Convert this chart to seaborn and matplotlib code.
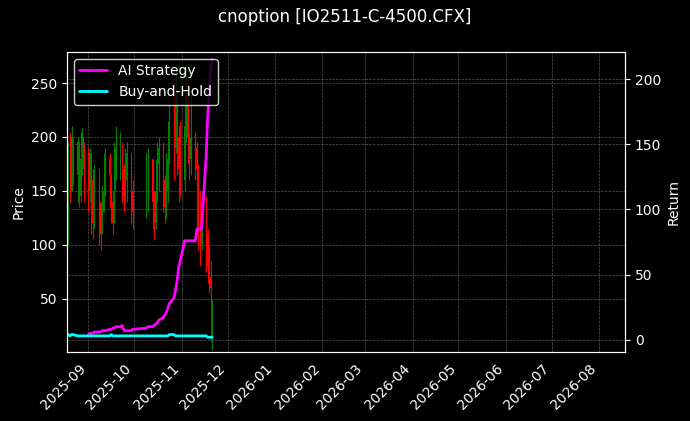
import matplotlib
matplotlib.use("Agg")
import matplotlib.pyplot as plt
import matplotlib.dates as mdates
import seaborn as sns
import pandas as pd
import numpy as np

dates = list(pd.bdate_range("2025-08-18", "2025-09-30")) + list(pd.bdate_range("2025-10-09", "2025-11-21"))

close = [110, 190, 150, 200, 165, 195, 145, 180, 200, 170,
         150, 185, 160, 120, 170, 140, 110, 130, 150, 180, 165, 140, 120, 150, 190, 200, 170, 145, 160, 185, 150, 130,
         160, 180, 140, 120, 150, 175, 190, 160, 135, 150, 180, 210, 190, 240, 200, 170, 160,
         210, 250, 200, 180, 200, 190, 170, 120, 100, 140, 110, 80, 70, 60, 50]
open_ = [85] + close[:-2] + [5]
high = [130, 195, 205, 210, 200, 200, 190, 205, 208, 195,
        190, 190, 175, 170, 175, 160, 140, 155, 185, 190, 185, 160, 150, 195, 210, 205, 195, 175, 190, 195, 185, 160,
        185, 190, 180, 150, 180, 195, 200, 195, 165, 185, 215, 230, 250, 265, 245, 210, 215,
        260, 270, 255, 205, 240, 205, 195, 175, 150, 150, 145, 115, 100, 85, 50]
low = [70, 100, 140, 150, 155, 140, 135, 140, 165, 140,
       130, 140, 110, 105, 115, 100, 95, 110, 130, 145, 135, 120, 110, 120, 160, 160, 140, 130, 140, 140, 120, 115,
       125, 130, 115, 105, 115, 140, 150, 130, 120, 125, 140, 175, 160, 185, 165, 140, 145,
       150, 195, 175, 160, 165, 160, 110, 95, 80, 95, 75, 65, 55, 10, 2]

strategy = [np.nan] * 10 + [
            4, 5, 5, 5, 6, 6, 6, 7, 7, 7, 8, 8, 9, 9, 10, 10, 11, 8, 7, 7, 7, 8,
            9, 10, 10, 11, 12, 13, 15, 17, 19, 21, 24, 28, 32, 38, 45, 55, 60,
            76, 76, 76, 76, 76, 76, 85, 85, 85, 85, 140, 170, 190, 205, 215]
buyhold = [3, 4, 3, 4, 4, 3, 3, 3, 3, 3,
           3, 3, 3, 3, 3, 3, 3, 3, 3, 3, 3, 4, 3, 3, 3, 3, 3, 3, 3, 3, 3, 3,
           3, 3, 3, 3, 3, 3, 3, 3, 3, 3, 3, 4, 4, 3, 3, 3, 3,
           3, 3, 3, 3, 3, 3, 3, 3, 3, 3, 3, 2, 2, 2, 2]

df = pd.DataFrame({"date": dates, "open": open_, "close": close, "high": high, "low": low,
                   "AI Strategy": strategy, "Buy-and-Hold": buyhold})

plt.style.use("dark_background")
sns.set_style("dark", {"axes.facecolor": "black", "figure.facecolor": "black", "axes.edgecolor": "white",
                       "text.color": "white", "axes.labelcolor": "white", "xtick.color": "white",
                       "ytick.color": "white", "grid.color": "#555555"})
plt.rcParams['font.family'] = ['DejaVu Sans']

fig, ax = plt.subplots(figsize=(6.9, 4.21), dpi=100)
fig.patch.set_facecolor("black")
ax.set_facecolor("black")

up = df["close"] >= df["open"]
colors = np.where(up, "green", "red")
ax.vlines(df["date"], df["low"], df["high"], colors=colors, linewidth=0.8)
ax.bar(df["date"], (df["close"] - df["open"]).abs(), bottom=df[["open", "close"]].min(axis=1),
       width=0.6, color=colors, edgecolor="none", linewidth=0)
ax.set_ylim(1, 279)
ax.set_ylabel("Price", color="white")
ax.grid(True, linestyle="--", linewidth=0.5, color="#555555")

ax2 = ax.twinx()
sns.lineplot(x=df["date"], y=df["AI Strategy"], ax=ax2, color="magenta", linewidth=2, label="AI Strategy")
sns.lineplot(x=df["date"], y=df["Buy-and-Hold"], ax=ax2, color="cyan", linewidth=2, label="Buy-and-Hold")
ax2.set_ylim(-9, 221)
ax2.set_ylabel("Return", color="white")
ax2.set_xlabel("")
ax2.grid(True, linestyle="--", linewidth=0.5, color="#555555")
for s in ax2.spines.values():
    s.set_color("white")

ax.set_xlim(pd.Timestamp("2025-08-18"), pd.Timestamp("2026-08-18"))
ax.xaxis.set_major_locator(mdates.MonthLocator())
ax.xaxis.set_major_formatter(mdates.DateFormatter("%Y-%m"))
plt.setp(ax.get_xticklabels(), rotation=45, ha="right")
ax.set_xlabel("")

leg = ax2.legend(loc="upper left", facecolor="black", edgecolor="white", framealpha=0.8)
for t in leg.get_texts():
    t.set_color("white")

fig.suptitle("cnoption [IO2511-C-4500.CFX]", color="white", fontsize=12)
fig.subplots_adjust(left=0.097, right=0.906, top=0.877, bottom=0.165)
fig.savefig("out.png", dpi=100, facecolor="black")
